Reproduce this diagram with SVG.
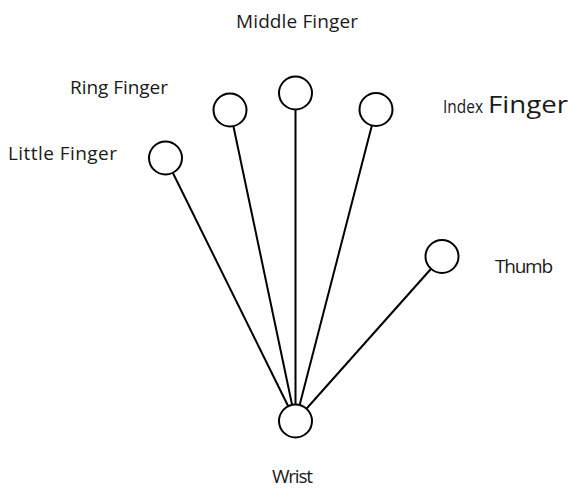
<svg xmlns="http://www.w3.org/2000/svg" width="572" height="489" viewBox="0 0 572 489">
  <style>
    .joint { fill: #ffffff; stroke: #000000; stroke-width: 2; }
    .bone { stroke: #000000; stroke-width: 2; fill: none; }
    .label { font-family: "Open Sans", "Liberation Sans", sans-serif; font-size: 19px; fill: #1a1a1a; }
  </style>
  <rect width="572" height="489" fill="#ffffff"/>

  <!-- bones from each fingertip down to the wrist -->
  <g id="connectors">
    <line class="bone" x1="165.5" y1="158" x2="295.5" y2="421"/>
    <line class="bone" x1="230" y1="110" x2="295.5" y2="421"/>
    <line class="bone" x1="295.5" y1="93" x2="295.5" y2="421"/>
    <line class="bone" x1="376" y1="109.5" x2="295.5" y2="421"/>
    <line class="bone" x1="442" y1="256.5" x2="295.5" y2="421"/>
  </g>

  <g id="little">
    <circle class="joint" cx="165.5" cy="158" r="16.5"/>
    <text class="label" x="8" y="160" textLength="109">Little Finger</text>
  </g>
  <g id="ring">
    <circle class="joint" cx="230" cy="110" r="16.5"/>
    <text class="label" x="70" y="94" textLength="98">Ring Finger</text>
  </g>
  <g id="middle">
    <circle class="joint" cx="295.5" cy="93" r="16.5"/>
    <text class="label" x="236" y="28" textLength="122">Middle Finger</text>
  </g>
  <g id="index">
    <circle class="joint" cx="376" cy="109.5" r="16.5"/>
    <text class="label" x="443" y="113" textLength="40" lengthAdjust="spacingAndGlyphs">Index</text>
    <text class="label" x="488" y="113" style="font-size:23px" textLength="80" lengthAdjust="spacingAndGlyphs">Finger</text>
  </g>
  <g id="thumb">
    <circle class="joint" cx="442" cy="256.5" r="16.5"/>
    <text class="label" x="495" y="273" textLength="58">Thumb</text>
  </g>
  <g id="wrist">
    <circle class="joint" cx="295.5" cy="421" r="16.5"/>
    <text class="label" x="272" y="483" textLength="41">Wrist</text>
  </g>
</svg>
